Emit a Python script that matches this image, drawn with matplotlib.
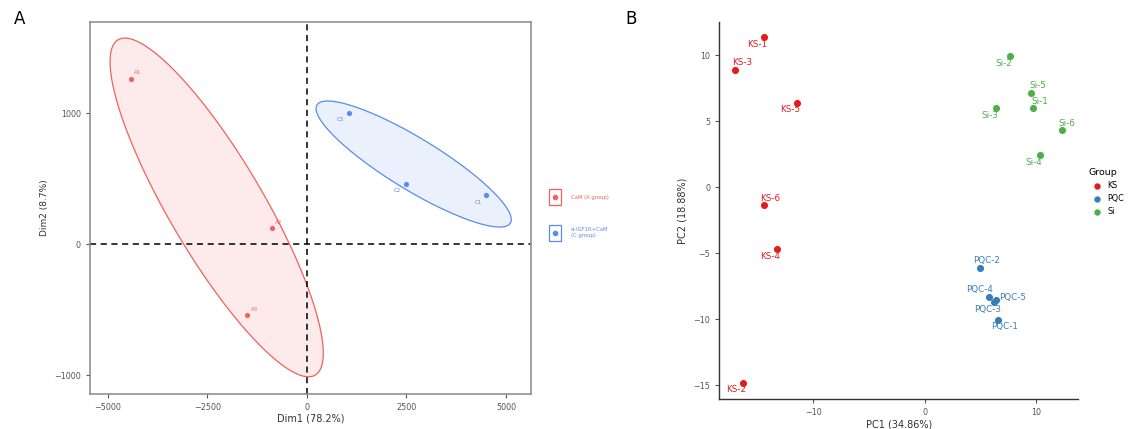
import numpy as np
import matplotlib.pyplot as plt
from matplotlib.patches import Polygon
from matplotlib.lines import Line2D

# ---- panel A data (Dim1 / Dim2) ----
a_names = ['A1', 'A2', 'A3']
a_x = [-4422, -879, -1492]
a_y = [1265, 120, -544]
c_names = ['C1', 'C2', 'C3']
c_x = [4505, 2487, 1055]
c_y = [374, 460, 1002]
a_groups = ['CaM (A group)', 'si-IGF1R+CaM\n(C group)']

# ---- panel B data (PC1 / PC2) ----
ks_names = ['KS-1', 'KS-2', 'KS-3', 'KS-4', 'KS-5', 'KS-6']
ks_x = [-14.42, -16.33, -17.05, -13.22, -11.47, -14.44]
ks_y = [11.36, -14.8, 8.89, -4.70, 6.39, -1.33]
pqc_names = ['PQC-1', 'PQC-2', 'PQC-3', 'PQC-4', 'PQC-5']
pqc_x = [6.63, 5.01, 6.27, 5.82, 6.39]
pqc_y = [-10.08, -6.11, -8.73, -8.30, -8.58]
si_names = ['Si-1', 'Si-2', 'Si-3', 'Si-4', 'Si-5', 'Si-6']
si_x = [9.78, 7.68, 6.42, 10.38, 9.57, 12.38]
si_y = [5.96, 9.92, 5.98, 2.42, 7.15, 4.32]

# label offsets in pixels (dx, dy with dy downward), mimic ggrepel placement
b_offsets = {
    'KS-1': (-7, 7), 'KS-2': (-7, 7), 'KS-3': (7, -7), 'KS-4': (-7, 7),
    'KS-5': (-7, 7), 'KS-6': (6, -6),
    'PQC-1': (6, 6), 'PQC-2': (6, -7), 'PQC-3': (-7, 7), 'PQC-4': (-10, -7),
    'PQC-5': (17, -3),
    'Si-1': (6, -7), 'Si-2': (-6, 7), 'Si-3': (-6, 7), 'Si-4': (-6, 7),
    'Si-5': (7, -7), 'Si-6': (5, -7),
}

RED_A = '#EF625D'
BLUE_A = '#5A8BEE'
KS_C, PQC_C, SI_C = '#E41A1C', '#377EB8', '#4DAF4A'
GRAY = '#555555'


def ellipse_pts(x, y, r=1.414, n=200):
    pts = np.column_stack([x, y]).astype(float)
    mu = pts.mean(axis=0)
    cov = np.cov(pts.T)
    vals, vecs = np.linalg.eigh(cov)
    t = np.linspace(0, 2 * np.pi, n)
    circ = np.column_stack([np.cos(t), np.sin(t)])
    return mu + r * (circ * np.sqrt(vals)) @ vecs.T


fig = plt.figure(figsize=(11.35, 4.29), dpi=100)

# ================= Panel A =================
ax = fig.add_axes([0.0793, 0.0816, 0.3885, 0.8671])
for xs, ys, col in [(a_x, a_y, RED_A), (c_x, c_y, BLUE_A)]:
    e = ellipse_pts(xs, ys)
    ax.add_patch(Polygon(e, closed=True, fc=col, alpha=0.12, ec='none'))
    ax.add_patch(Polygon(e, closed=True, fc='none', ec=col, lw=0.9))
ax.axvline(0, color='black', ls=(0, (4, 3)), lw=1.1, zorder=1)
ax.axhline(0, color='black', ls=(0, (4, 3)), lw=1.1, zorder=1)
ax.scatter(a_x, a_y, s=14, color=RED_A, zorder=3, lw=0)
ax.scatter(c_x, c_y, s=14, color=BLUE_A, zorder=3, lw=0)
for nm, x, y in zip(a_names, a_x, a_y):
    ax.annotate(nm, (x, y), xytext=(7, 6), textcoords='offset pixels',
                ha='center', va='center', fontsize=4, color=RED_A)
for nm, x, y in zip(c_names, c_x, c_y):
    ax.annotate(nm, (x, y), xytext=(-8, -7), textcoords='offset pixels',
                ha='center', va='center', fontsize=4, color=BLUE_A)
ax.set_xlim(-5445, 5628)
ax.set_ylim(-1145, 1697)
ax.set_xticks([-5000, -2500, 0, 2500, 5000])
ax.set_yticks([-1000, 0, 1000])
ax.tick_params(labelsize=5.8, colors=GRAY, length=3, width=0.8)
for s in ax.spines.values():
    s.set_color('#888888')
    s.set_linewidth(1.1)
ax.set_xlabel('Dim1 (78.2%)', fontsize=7, color='#333333', labelpad=1)
ax.set_ylabel('Dim2 (8.7%)', fontsize=6.5, color='#333333', labelpad=4)

# boxed legend keys: a tall open rectangle with a dot in the middle
box = [(-0.8, -1), (0.8, -1), (0.8, 1), (-0.8, 1), (-0.8, -1)]
handles = []
for col in [RED_A, BLUE_A]:
    handles.append((
        Line2D([], [], marker=box, ls='none', ms=11, mfc='white',
               mec=col, mew=0.9),
        Line2D([], [], marker='o', ls='none', ms=3, color=col)))
leg = fig.legend(handles, a_groups, loc='center left',
                 bbox_to_anchor=(0.485, 0.495), frameon=False, fontsize=3.8,
                 handlelength=1.8, labelspacing=5.2,
                 handletextpad=2.0, borderpad=0, borderaxespad=0)
leg.get_texts()[0].set_color(RED_A)
leg.get_texts()[1].set_color(BLUE_A)

# ================= Panel B =================
bx = fig.add_axes([0.6337, 0.0699, 0.3161, 0.8788])
series = [(ks_names, ks_x, ks_y, KS_C, 'KS'),
          (pqc_names, pqc_x, pqc_y, PQC_C, 'PQC'),
          (si_names, si_x, si_y, SI_C, 'Si')]
for names, xs, ys, col, grp in series:
    bx.scatter(xs, ys, s=26, color=col, lw=0, zorder=3, label=grp)
    for nm, x, y in zip(names, xs, ys):
        dx, dy = b_offsets[nm]
        bx.annotate(nm, (x, y), xytext=(dx, -dy), textcoords='offset pixels',
                    ha='center', va='center', fontsize=6.3, color=col)
bx.set_xlim(-18.45, 13.8)
bx.set_ylim(-16.04, 12.5)
bx.set_xticks([-10, 0, 10])
bx.set_yticks([-15, -10, -5, 0, 5, 10])
bx.spines['top'].set_visible(False)
bx.spines['right'].set_visible(False)
for s in ['left', 'bottom']:
    bx.spines[s].set_color('#333333')
    bx.spines[s].set_linewidth(1.0)
bx.tick_params(labelsize=5.8, colors=GRAY, length=3, width=0.8)
bx.set_xlabel('PC1 (34.86%)', fontsize=7, color='#333333', labelpad=2)
bx.set_ylabel('PC2 (18.88%)', fontsize=7, color='#333333', labelpad=4)
lg = bx.legend(title='Group', loc='center left', bbox_to_anchor=(1.01, 0.55),
               frameon=False, fontsize=5.8, title_fontsize=6.8,
               handletextpad=0.3, labelspacing=0.5, markerscale=0.9)
lg._legend_box.align = 'left'

fig.text(0.012, 0.955, 'A', fontsize=12, va='center')
fig.text(0.551, 0.955, 'B', fontsize=12, va='center')

fig.savefig('out.png', dpi=100)
